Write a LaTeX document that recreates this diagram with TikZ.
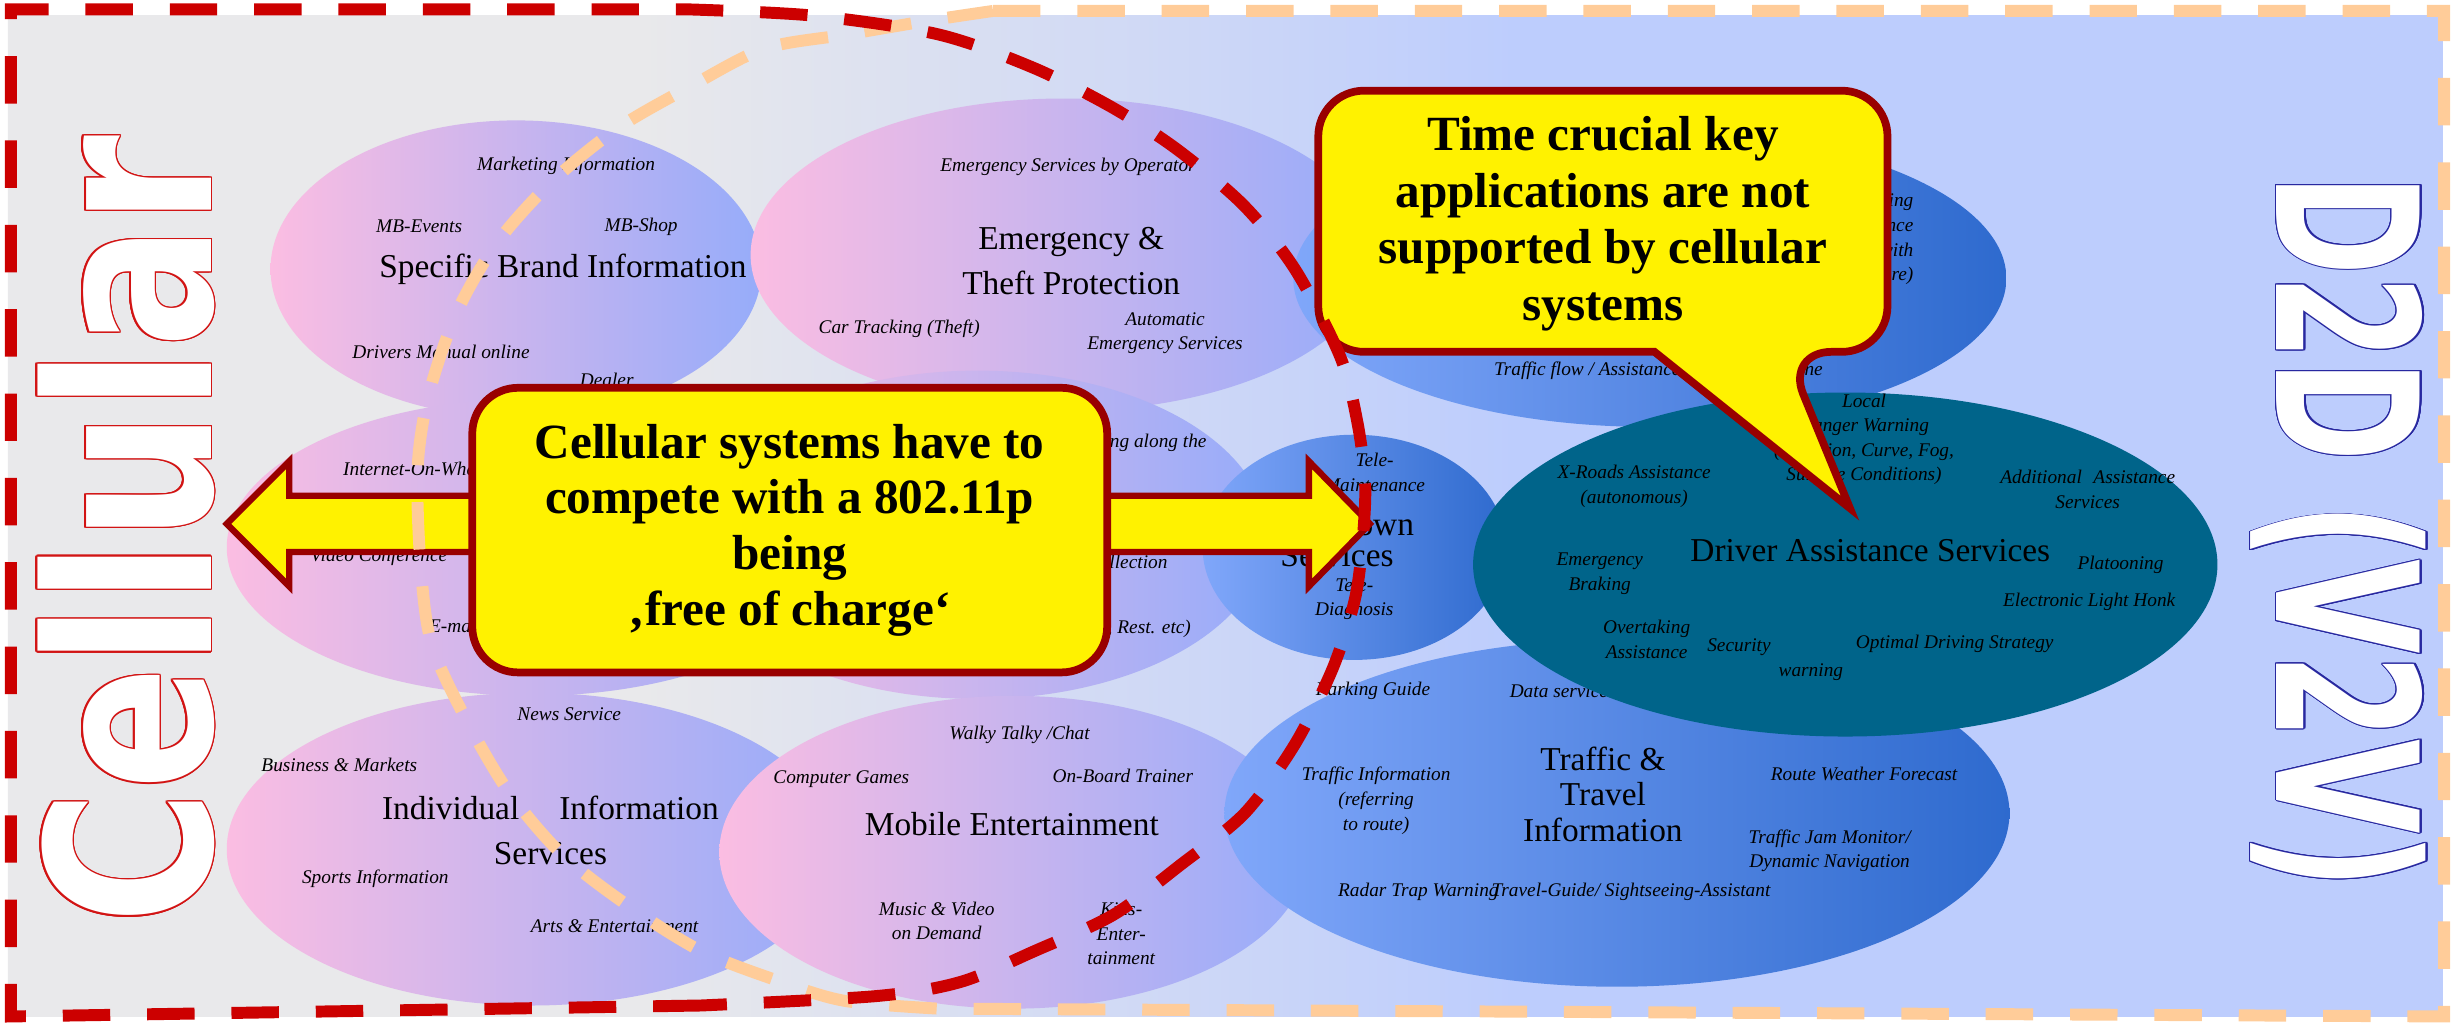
\documentclass[tikz,border=0pt]{standalone}
\usepackage{fontspec}
\setmainfont{Liberation Serif}
\newfontfamily\heavysans{DejaVu Sans}
\usepackage{contour}
\contourlength{0.45pt}

\definecolor{bggray}{RGB}{233,233,235}
\definecolor{bgblue}{RGB}{189,205,253}
\definecolor{pinkl}{RGB}{251,189,226}
\definecolor{lavr}{RGB}{150,172,250}
\definecolor{skyl}{RGB}{128,167,250}
\definecolor{navyr}{RGB}{46,106,206}
\definecolor{tealdas}{RGB}{0,100,138}
\definecolor{boxred}{RGB}{153,0,0}
\definecolor{dashred}{RGB}{204,0,0}
\definecolor{dashpeach}{RGB}{255,204,153}
\definecolor{cellred}{RGB}{210,20,20}
\definecolor{d2dblue}{RGB}{40,40,160}

\pgfdeclarehorizontalshading{bgshade}{100bp}{color(0bp)=(bggray); color(38bp)=(bggray); color(56bp)=(bgblue); color(100bp)=(bgblue)}

\newcommand{\pu}{0.15638mm}
\newcommand{\lblfont}{\fontsize{5.5}{7}\selectfont\itshape}
\newcommand{\ttlfont}{\fontsize{9.5}{12.9}\selectfont}
\newcommand{\msgfont}{\fontsize{14}{15.8}\selectfont\bfseries}

\tikzset{
  lbl/.style={font=\lblfont, align=center, inner sep=0pt},
  ttl/.style={font=\ttlfont, align=center, inner sep=0pt},
  pinkoval/.style={left color=pinkl, right color=lavr},
  blueoval/.style={left color=skyl, right color=navyr},
  dashborder/.style={line width=3.4pt, dash pattern=on 13.5pt off 10.5pt},
  msgbox/.style={draw=boxred, line width=2.2pt, fill=yellow, rounded corners=13pt},
}

\begin{document}
\begin{tikzpicture}[x=\pu, y=-\pu]
\useasboundingbox (0,0) rectangle (1568,656);
% background
\shade[shading=bgshade] (5,10) rectangle (1562,650);

% cellular services
\shade[pinkoval] (330,172) ellipse [x radius=157, y radius=95];
\node[lbl] (mktinfo) at (362,106) {Marketing Information};
\node[lbl] (mbevents) at (268,145) {MB-Events};
\node[lbl] (mbshop) at (410,145) {MB-Shop};
\node[ttl] (brand) at (360,172) {Specific Brand Information};
\node[lbl] (manual) at (282,225) {Drivers Manual online};
\node[lbl] (dealer) at (388,243) {Dealer};

\shade[pinkoval] (680,163) ellipse [x radius=200, y radius=100];
\node[lbl] (operator) at (683,107) {Emergency Services by Operator};
\node[ttl] (theft) at (685,167) {Emergency \&\\Theft Protection};
\node[lbl] (tracking) at (575,210) {Car Tracking (Theft)};
\node[lbl] (autoems) at (745,213) {Automatic\\Emergency Services};

\shade[pinkoval] (340,350) ellipse [x radius=195, y radius=95];
\node[lbl, anchor=west] (wheels) at (219,300) {Internet-On-Wheels};
\node[lbl, anchor=west] (video) at (198,356) {Video Conference};
\node[lbl, anchor=west] (email) at (274,400) {E-mail};

\shade[pinkoval] (625,342) ellipse [x radius=185, y radius=105];
\node[lbl, anchor=east] (shopping) at (772,283) {Shopping along the};
\node[lbl, anchor=east] (toll) at (747,359) {Toll Collection};
\node[lbl, anchor=east] (booking) at (762,402) {(Hotel, Rest. etc)};

\shade[pinkoval] (340,543) ellipse [x radius=195, y radius=100];
\node[lbl] (news) at (364,457) {News Service};
\node[lbl] (business) at (217,489) {Business \& Markets};
\node[ttl] (indiv) at (352,531) {Individual\hspace{1.2em}Information\\Services};
\node[lbl] (sports) at (240,562) {Sports Information};
\node[lbl] (arts) at (393,592) {Arts \& Entertainment};

\shade[pinkoval] (648,545) ellipse [x radius=188, y radius=100];
\node[lbl] (walky) at (652,470) {Walky Talky /Chat};
\node[lbl] (games) at (538,498) {Computer Games};
\node[lbl] (trainer) at (718,496) {On-Board Trainer};
\node[ttl] (mobile) at (647,527) {Mobile Entertainment};
\node[lbl] (music) at (599,589) {Music \& Video\\on Demand};
\node[lbl] (kids) at (717,597) {Kids-\\Enter-\\tainment};

% d2d services
\shade[blueoval] (1055,178) ellipse [x radius=228, y radius=95];
\node[lbl, align=right, anchor=east] (tolling) at (1224,153) {Tolling\\Assistance\\with\\(Structure)};
\node[lbl, anchor=west] (lane) at (955,237) {Traffic flow / Assistance for changing lane};

\shade[blueoval] (866,350) ellipse [x radius=97, y radius=72];
\node[lbl] (maint) at (879,302) {Tele-\\Maintenance};
\node[ttl, font=\fontsize{9.5}{9}\selectfont] (breakdown) at (855,345) {Breakdown\\Services};
\node[lbl] (diag) at (866,383) {Tele-\\Diagnosis};

\shade[blueoval] (1034,520) ellipse [x radius=251, y radius=111];
\node[lbl] (parking) at (878,442) {Parking Guide};
\node[lbl, anchor=west] (data) at (965,442) {Data services};
\node[ttl, font=\fontsize{9.5}{10}\selectfont] (travel) at (1025,508) {Traffic \&\\Travel\\Information};
\node[lbl] (trafinfo) at (880,512) {Traffic Information\\(referring\\to route)};
\node[lbl] (weather) at (1192,495) {Route Weather Forecast};
\node[lbl] (jam) at (1170,544) {Traffic Jam Monitor/\\Dynamic Navigation};
\node[lbl] (radar) at (907,570) {Radar Trap Warning};
\node[lbl] (guide) at (1043,570) {Travel-Guide/ Sightseeing-Assistant};

\fill[tealdas] (1180,361) ellipse [x radius=238, y radius=110];
\node[lbl] (danger) at (1192,281) {Local\\Danger Warning\\(Collision, Curve, Fog,\\Surface Conditions)};
\node[lbl] (xroads) at (1045,311) {X-Roads Assistance\\(autonomous)};
\node[lbl] (addassist) at (1335,313) {Additional\hspace{0.6em}Assistance\\Services};
\node[ttl] (driver) at (1196,352) {Driver Assistance Services};
\node[lbl] (braking) at (1023,367) {Emergency\\Braking};
\node[lbl] (platoon) at (1356,361) {Platooning};
\node[lbl] (honk) at (1336,385) {Electronic Light Honk};
\node[lbl] (overtake) at (1053,409) {Overtaking\\Assistance};
\node[lbl] (security) at (1112,414) {Security};
\node[lbl] (optimal) at (1250,412) {Optimal Driving Strategy};
\node[lbl] (warning) at (1158,430) {warning};

% competition arrow and message boxes
\draw[boxred, line width=1.8pt, fill=yellow, line join=miter]
  (145,335) -- (185,295) -- (185,317) -- (837,317) -- (837,295) -- (876,335)
  -- (837,375) -- (837,353) -- (185,353) -- (185,375) -- cycle;
\node[msgbox, minimum width=406*\pu, minimum height=182*\pu, font=\msgfont,
  align=center, inner sep=0pt] (compete) at (505,339)
  {Cellular systems have to\\compete with a 802.11p\\being\\‚free of charge‘};
\draw[msgbox] (843,140) -- (843,58) -- (1207,58) -- (1207,225) -- (1142,225)
  [sharp corners] -- (1183,325) -- (1058,225) -- (950,225)
  [rounded corners=13pt] -- (843,225) -- cycle;
\node[font=\fontsize{14}{16.1}\selectfont\bfseries, align=center, inner sep=0pt]
  (crucial) at (1025,143) {Time crucial key\\applications are not\\supported by cellular\\systems};

% coverage borders
\draw[dashborder, dashpeach] (635,7) -- (1563,7) -- (1563,650) -- (600,645)
  -- plot[smooth] coordinates {(600,645) (540,640) (497,627) (448,608) (400,578)
  (359,546) (325,506) (298,460) (276,412) (269,362) (267,300) (274,253) (292,200)
  (318,155) (353,116) (395,82) (442,55) (489,31) (542,22) (595,13) (635,7)};
\draw[dashborder, dashred] (448,643) -- (7,650) -- (7,6) -- (440,6)
  -- plot[smooth] coordinates {(440,6) (520,10) (600,22) (660,43) (710,68)
  (752,95) (795,131) (828,172) (857,228) (868,270) (873,310) (871,350) (866,385)
  (852,428) (828,476) (796,520) (755,553) (712,585) (662,608) (614,628) (560,637)
  (448,643)};

% system names
\node[rotate=90, anchor=base, inner sep=0pt] (cellular) at (135,339)
  {\heavysans\bfseries\fontsize{65}{65}\selectfont\scalebox{0.8}[1]{\textcolor{white}{\contour{cellred}{Cellular}}}};
\node[rotate=-90, anchor=base, inner sep=0pt] (d2d) at (1456,340)
  {\heavysans\bfseries\fontsize{56}{56}\selectfont\scalebox{0.62}[1]{\textcolor{white}{\contour{d2dblue}{D2D (V2V)}}}};
\end{tikzpicture}
\end{document}
